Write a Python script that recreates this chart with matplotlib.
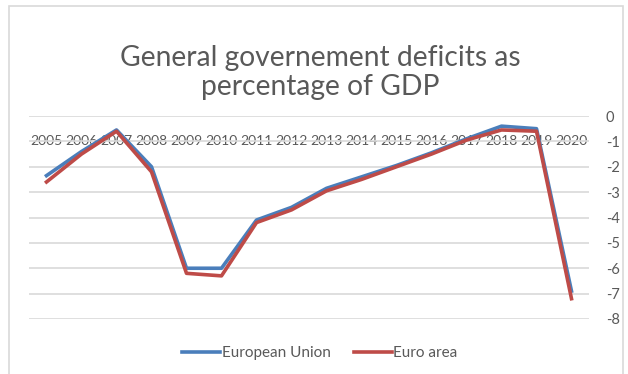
import matplotlib
matplotlib.use("Agg")
import matplotlib.pyplot as plt
from matplotlib.patches import Rectangle

# Déficits publics en % du PIB
anos = ['2005', '2006', '2007', '2008', '2009', '2010', '2011', '2012',
        '2013', '2014', '2015', '2016', '2017', '2018', '2019', '2020']
uniao_europeia = [-2.35, -1.4, -0.55, -2.0, -6.0, -6.0, -4.1, -3.6,
                  -2.85, -2.4, -1.95, -1.45, -0.9, -0.4, -0.5, -6.9]
zona_euro = [-2.6, -1.5, -0.6, -2.2, -6.2, -6.3, -4.2, -3.7,
             -2.95, -2.5, -2.0, -1.5, -0.95, -0.55, -0.6, -7.2]
ticks_y = [0, -1, -2, -3, -4, -5, -6, -7, -8]

cinza_texto = '#595959'
plt.rcParams['font.family'] = ['Lato', 'DejaVu Sans']

fig = plt.figure(figsize=(6.28, 3.74), dpi=100)
fig.patches.append(Rectangle((9 / 628, -0.1), 614 / 628, 1.1 - 6 / 374,
                             transform=fig.transFigure, fill=False,
                             edgecolor='#d9d9d9', linewidth=1.2))

ax = fig.add_axes([29 / 628, 1 - 319 / 374, 560 / 628, 203 / 374])
x = range(len(anos))
ax.plot(x, uniao_europeia, color='#4a7ebb', linewidth=2.6,
        label='European Union', solid_joinstyle='round')
ax.plot(x, zona_euro, color='#be4b48', linewidth=2.6,
        label='Euro area', solid_joinstyle='round')

ax.set_xlim(-0.5, len(anos) - 0.5)
ax.set_ylim(-8, 0)
ax.set_yticks(ticks_y)
ax.set_yticklabels([str(v) for v in ticks_y])
ax.yaxis.tick_right()
ax.tick_params(axis='y', length=0, pad=12, labelsize=10.5, labelcolor=cinza_texto)
ax.grid(axis='y', color='#d9d9d9', linewidth=1.2)
ax.set_axisbelow(True)

ax.xaxis.tick_top()
ax.set_xticks(list(x))
ax.set_xticklabels(anos)
ax.tick_params(axis='x', length=0, pad=-22, labelsize=10, labelcolor=cinza_texto)

for lado in ax.spines.values():
    lado.set_visible(False)

fig.text(0.51, 1 - 95 / 374, 'General governement deficits as\npercentage of GDP',
         ha='center', va='baseline', fontsize=20.3, color=cinza_texto,
         linespacing=1.15)

fig.legend(loc='center', bbox_to_anchor=(320 / 628, 1 - 353 / 374), ncol=2,
           frameon=False, fontsize=11, labelcolor=cinza_texto,
           handlelength=2.5, handletextpad=0.1, columnspacing=1.5)

fig.savefig('out.png', dpi=100)
